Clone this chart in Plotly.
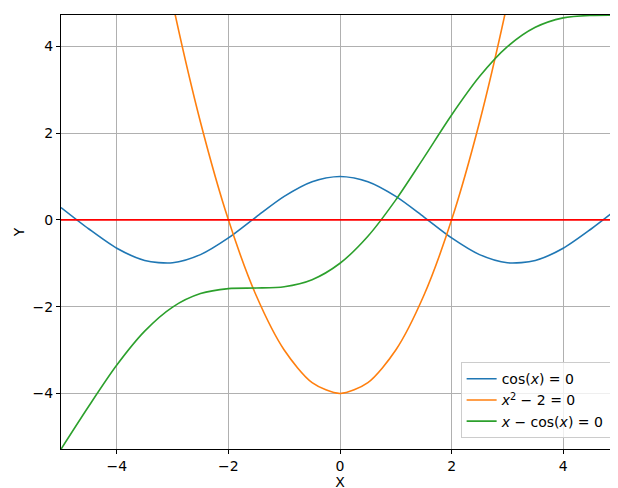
import plotly.graph_objects as go

xs = [-5,-4.5,-4,-3.5,-3,-2.5,-2,-1.5,-1,-0.5,0,0.5,1,1.5,2,2.5,3,3.5,4,4.5,5]
cos_y = [0.284,-0.211,-0.654,-0.936,-0.990,-0.801,-0.416,0.071,0.540,0.878,1.0,
         0.878,0.540,0.071,-0.416,-0.801,-0.990,-0.936,-0.654,-0.211,0.284]
quad_y = [21,16.25,12,8.25,5,2.25,0,-1.75,-3,-3.75,-4,-3.75,-3,-1.75,0,2.25,5,8.25,12,16.25,21]
xc_y = [-5.284,-4.289,-3.346,-2.564,-2.010,-1.699,-1.584,-1.571,-1.540,-1.378,-1.0,
        -0.378,0.460,1.429,2.416,3.301,3.990,4.436,4.654,4.711,4.716]
zero_x = [-5, 5]
zero_y = [0, 0]
labels = ["cos(<i>x</i>) = 0", "<i>x</i><sup>2</sup> − 2 = 0", "<i>x</i> − cos(<i>x</i>) = 0"]

fig = go.Figure()
for y, c, n in zip([cos_y, quad_y, xc_y], ["#1f77b4", "#ff7f0e", "#2ca02c"], labels):
    fig.add_trace(go.Scatter(x=xs, y=y, mode="lines", line=dict(color=c, width=1.6, shape="spline", smoothing=0.8), name=n))
fig.add_trace(go.Scatter(x=zero_x, y=zero_y, mode="lines", line=dict(color="red", width=1.6), showlegend=False))

ax = dict(showgrid=True, gridcolor="#b0b0b0", gridwidth=0.8, zeroline=False, showline=True, linecolor="black",
          mirror=True, ticks="outside", ticklen=4, tickcolor="black", automargin=False,
          tickfont=dict(size=14))
fig.update_layout(
    width=618, height=488, paper_bgcolor="white", plot_bgcolor="white",
    margin=dict(l=53, r=7, t=7, b=47),
    font=dict(family="DejaVu Sans", size=14, color="black"),
    xaxis=dict(range=[-5, 5], dtick=2, title=dict(text="X", standoff=2, font=dict(size=14)), **ax),
    yaxis=dict(range=[-5.28, 4.72], dtick=2, title=dict(text="Y", standoff=4, font=dict(size=14)), **ax),
    legend=dict(x=0.985, y=0.025, xanchor="right", yanchor="bottom", bordercolor="#cccccc", borderwidth=1,
                bgcolor="rgba(255,255,255,0.8)", font=dict(size=14)),
)
fig.write_html("out.html")
